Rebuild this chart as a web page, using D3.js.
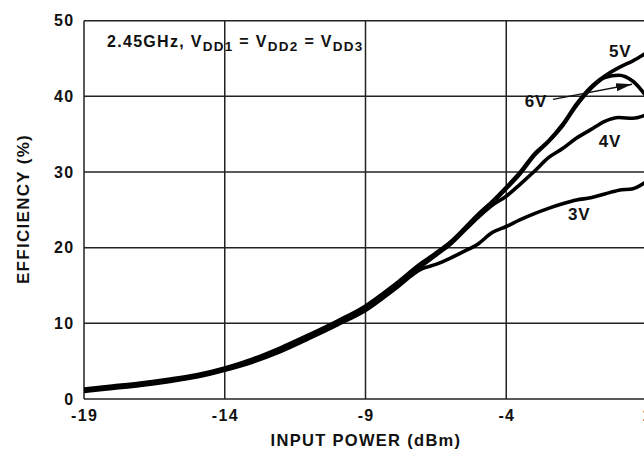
<!DOCTYPE html>
<html>
<head>
<meta charset="utf-8">
<title>Efficiency vs input power</title>
<script src="https://d3js.org/d3.v7.min.js"></script>
<style>
  body { margin: 0; background: #fff; }
  text { font-family: "Liberation Sans", Arial, sans-serif; font-weight: bold; fill: #111; letter-spacing: 1.3px; }
</style>
</head>
<body>
<script>
// data
var inputPower = [-19, -18, -17, -16, -15, -14, -13, -12, -11, -10, -9, -8, -7, -6.5, -6, -5.5, -5, -4.5, -4, -3.5, -3, -2.5, -2, -1.5, -1, -0.5, 0, 0.5, 1];
var eff3V = [1.0, 1.4, 1.8, 2.3, 2.9, 3.8, 4.9, 6.3, 8.0, 9.8, 11.7, 14.4, 17.2, 17.8, 18.6, 19.5, 20.5, 22.0, 22.8, 23.7, 24.5, 25.2, 25.8, 26.3, 26.6, 27.1, 27.6, 27.8, 28.8];
var eff4V = [1.1, 1.5, 1.9, 2.4, 3.0, 3.9, 5.0, 6.5, 8.2, 10.0, 11.9, 14.7, 17.6, 19.0, 20.4, 22.2, 24.0, 25.6, 26.8, 28.4, 30.1, 31.9, 33.1, 34.5, 35.6, 36.7, 37.2, 37.1, 37.6];
var eff5V = [1.3, 1.7, 2.1, 2.6, 3.2, 4.1, 5.3, 6.8, 8.5, 10.3, 12.3, 15.0, 18.0, 19.3, 20.7, 22.5, 24.4, 26.1, 28.0, 30.0, 32.4, 34.1, 36.3, 39.0, 41.2, 42.7, 43.8, 44.7, 45.8];
var eff6V = [1.2, 1.6, 2.0, 2.5, 3.1, 4.0, 5.1, 6.6, 8.3, 10.2, 12.1, 14.8, 17.8, 19.2, 20.6, 22.4, 24.2, 25.9, 27.8, 29.8, 32.2, 34.0, 36.1, 38.8, 41.0, 42.5, 42.8, 42.0, 39.9];
var seriesNames = ["3V", "4V", "5V", "6V"];

var xTicks = [-19, -14, -9, -4, 1];
var yTicks = [0, 10, 20, 30, 40, 50];

// curve labels, in data units [x, y]
var labelPos = { "3V": [-1.81, 23.7], "4V": [-0.71, 33.3], "5V": [-0.35, 45.2] };
var label6V = [-2.55, 38.6], arrowFrom = [-2.34, 39.6], arrowTo = [0.47, 41.6];

var width = 644, height = 450;
var plotLeft = 84, plotTop = 20.7, plotRight = 647, plotBottom = 399;

var x = d3.scaleLinear().domain([-19, 1]).range([plotLeft, plotRight]);
var y = d3.scaleLinear().domain([0, 50]).range([plotBottom, plotTop]);

var svg = d3.select("body").append("svg")
    .attr("width", width).attr("height", height);

var defs = svg.append("defs");
defs.append("marker")
    .attr("id", "arrow")
    .attr("viewBox", "0 0 16 8")
    .attr("refX", 16).attr("refY", 4)
    .attr("markerWidth", 16).attr("markerHeight", 8)
    .attr("markerUnits", "userSpaceOnUse")
    .attr("orient", "auto")
  .append("path")
    .attr("d", "M0,0 L16,4 L0,8 Z")
    .attr("fill", "#111");

defs.append("clipPath").attr("id", "plot")
  .append("rect")
    .attr("x", plotLeft).attr("y", 0)
    .attr("width", plotRight - plotLeft).attr("height", plotBottom);

// grid
svg.append("g").selectAll("line")
  .data(xTicks)
  .enter().append("line")
    .attr("x1", d => x(d)).attr("x2", d => x(d))
    .attr("y1", plotTop).attr("y2", plotBottom)
    .attr("stroke", "#222").attr("stroke-width", 1.5);

svg.append("g").selectAll("line")
  .data(yTicks)
  .enter().append("line")
    .attr("x1", plotLeft).attr("x2", plotRight)
    .attr("y1", d => y(d)).attr("y2", d => y(d))
    .attr("stroke", "#222").attr("stroke-width", 1.5);

// tick labels
svg.append("g").selectAll("text")
  .data(xTicks)
  .enter().append("text")
    .attr("x", d => x(d) + 0.6).attr("y", 420.5)
    .attr("text-anchor", "middle")
    .style("font-size", "16px")
    .text(d => d);

svg.append("g").selectAll("text")
  .data(yTicks)
  .enter().append("text")
    .attr("x", 74.5).attr("y", d => y(d))
    .attr("dy", "0.36em")
    .attr("text-anchor", "end")
    .style("font-size", "16px")
    .text(d => d);

// axis titles
svg.append("text")
    .attr("x", 366).attr("y", 445.5)
    .attr("text-anchor", "middle")
    .style("font-size", "16.5px")
    .text("INPUT POWER (dBm)");

svg.append("text")
    .attr("transform", "translate(28.5,209) rotate(-90)")
    .attr("text-anchor", "middle")
    .style("font-size", "17px")
    .text("EFFICIENCY (%)");

// condition note
var note = svg.append("text")
    .attr("x", 107).attr("y", 46.5)
    .style("font-size", "16px");
note.append("tspan").text("2.45GHz, V");
note.append("tspan").attr("dy", 4).style("font-size", "13.5px").text("DD1");
note.append("tspan").attr("dy", -4).text(" = V");
note.append("tspan").attr("dy", 4).style("font-size", "13.5px").text("DD2");
note.append("tspan").attr("dy", -4).text(" = V");
note.append("tspan").attr("dy", 4).style("font-size", "13.5px").text("DD3");

// curves
var series = [eff3V, eff4V, eff5V, eff6V];
var line = d3.line()
    .x((d, i) => x(inputPower[i]))
    .y(d => y(d))
    .curve(d3.curveMonotoneX);

svg.append("g").attr("clip-path", "url(#plot)").selectAll("path")
  .data(series)
  .enter().append("path")
    .attr("d", line)
    .attr("fill", "none")
    .attr("stroke", "#000")
    .attr("stroke-width", 3.6)
    .attr("stroke-linejoin", "round");

// curve labels
svg.append("g").selectAll("text")
  .data(Object.keys(labelPos))
  .enter().append("text")
    .attr("x", d => x(labelPos[d][0])).attr("y", d => y(labelPos[d][1]))
    .style("font-size", "17px")
    .style("letter-spacing", "0.8px")
    .text(d => d);

svg.append("text")
    .attr("x", x(label6V[0])).attr("y", y(label6V[1]))
    .attr("text-anchor", "end")
    .style("font-size", "17px")
    .style("letter-spacing", "0.8px")
    .text(seriesNames[3]);

svg.append("line")
    .attr("x1", x(arrowFrom[0])).attr("y1", y(arrowFrom[1]))
    .attr("x2", x(arrowTo[0])).attr("y2", y(arrowTo[1]))
    .attr("stroke", "#111").attr("stroke-width", 1.3)
    .attr("marker-end", "url(#arrow)");
</script>
</body>
</html>
